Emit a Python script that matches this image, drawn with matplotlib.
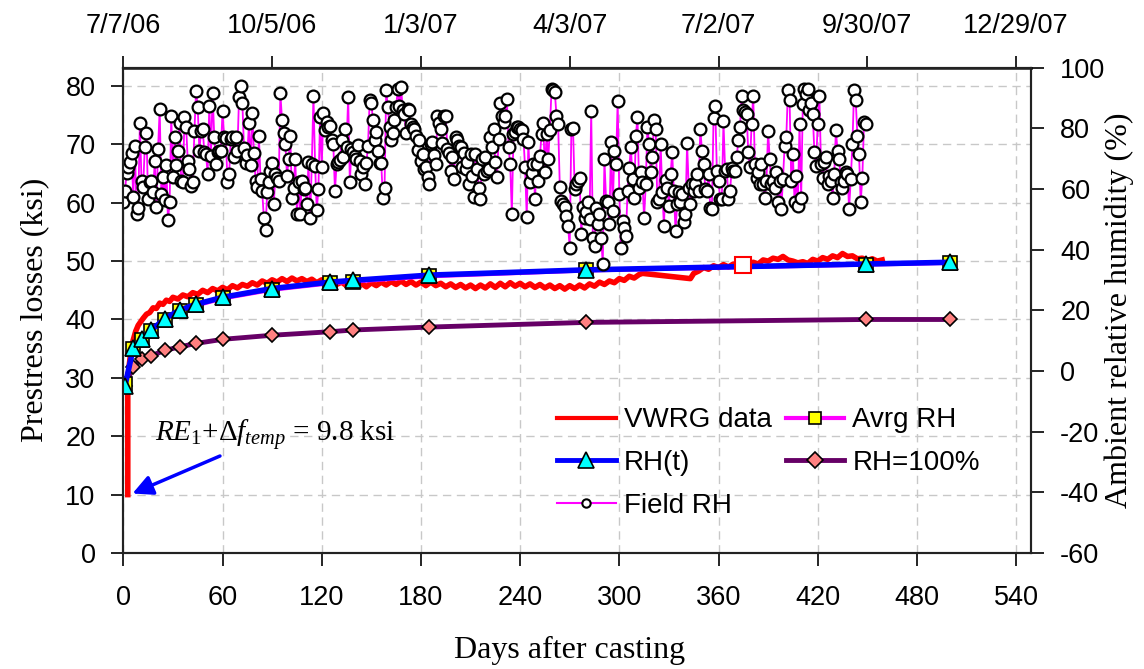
import numpy as np
import matplotlib
matplotlib.use('Agg')
import matplotlib.pyplot as plt
from matplotlib.lines import Line2D

# ---- data ----
# VWRG gauge readings (day, ksi)
vwrg_days = [2.7, 2.7, 3.5, 4.5, 5.5, 6.5, 7.5, 9, 10.5, 12,
             14, 16, 18, 20, 22, 24, 26, 28, 30, 33,
             36, 39, 42, 45, 48, 51, 54, 57, 60, 63,
             66, 69, 72, 75, 78, 81, 84, 87, 90, 93,
             96, 99, 102, 105, 108, 111, 114, 117, 120, 123,
             126, 129, 132, 135, 138, 141, 144, 147, 150, 153,
             156, 159, 162, 165, 168, 171, 174, 177, 180, 183,
             186, 189, 192, 195, 198, 201, 204, 207, 210, 213,
             216, 219, 222, 225, 228, 231, 234, 237, 240, 243,
             246, 249, 252, 255, 258, 261, 264, 267, 270, 273,
             276, 279, 282, 285, 288, 291, 294, 297, 300, 303,
             306, 309, 312, 314, 343, 345, 348, 351, 354, 357,
             360, 363, 366, 369, 372, 375, 378, 381, 384, 387,
             390, 393, 396, 399, 402, 405, 408, 411, 414, 417,
             420, 423, 426, 429, 432, 435, 438, 441, 444, 447,
             450, 453, 456, 459]
vwrg_ksi = [10.0, 29.0, 32.0, 34.5, 36.0, 37.0, 38.0, 39.0, 39.6, 40.2,
            40.9, 41.2, 42.0, 41.9, 42.8, 42.6, 43.3, 43.1, 43.8, 43.5,
            44.2, 43.9, 44.6, 44.3, 45.0, 44.6, 45.3, 44.9, 45.5, 45.1,
            45.8, 45.4, 46.0, 45.7, 46.3, 45.9, 46.6, 46.2, 46.8, 46.4,
            47.0, 46.5, 47.1, 46.6, 47.0, 46.5, 46.9, 46.3, 46.8, 46.2,
            46.6, 46.0, 46.4, 45.8, 46.3, 45.7, 46.2, 45.6, 46.3, 45.8,
            46.4, 45.9, 46.5, 46.0, 46.6, 46.0, 46.5, 45.9, 46.4, 45.8,
            46.4, 45.8, 46.2, 45.6, 46.1, 45.5, 46.0, 45.4, 45.9, 45.3,
            45.9, 45.4, 46.1, 45.5, 46.2, 45.6, 46.3, 45.7, 46.2, 45.6,
            46.1, 45.5, 46.0, 45.4, 45.9, 45.3, 45.8, 45.2, 45.8, 45.3,
            45.9, 45.4, 46.1, 45.7, 46.4, 46.0, 46.6, 46.3, 47.0, 46.7,
            47.4, 47.1, 47.7, 47.9, 47.0, 47.9, 48.3, 48.9, 48.6, 49.2,
            48.9, 49.4, 49.0, 49.5, 49.1, 49.4, 49.3, 49.8, 49.5, 50.2,
            50.0, 50.5, 50.3, 50.8, 50.2, 50.0, 49.7, 49.9, 49.6, 50.3,
            50.0, 50.6, 50.3, 50.9, 50.6, 51.3, 50.8, 50.9, 50.4, 50.5,
            50.1, 50.4, 50.0, 50.2]
open_mark_day = [375]
open_mark_ksi = [49.3]

# model predictions (ksi)
model_days = [1, 6, 11, 17, 25, 34, 44, 60, 90, 125, 139, 185, 280, 449, 500]
rh_t = [28.6, 35.1, 36.6, 38.2, 40.1, 41.6, 42.6, 43.8, 45.3, 46.4, 46.7, 47.6, 48.5, 49.5, 49.8]
avrg_rh = [28.9, 35.0, 36.5, 38.0, 39.9, 41.4, 42.4, 43.6, 45.1, 46.2, 46.5, 47.4, 48.4, 49.4, 49.7]
rh_100 = [28.6, 31.9, 33.2, 33.8, 34.7, 35.3, 35.9, 36.6, 37.3, 37.9, 38.2, 38.7, 39.5, 40.0, 40.0]

# daily field relative humidity (%), day 0 onwards
field_rh = [
    55.6, 59.4, 65.3, 67.1, 68.8, 71.8, 57.4, 74.3, 51.7, 53.6,
    81.7, 62.7, 60.8, 74.0, 78.4, 56.7, 62.2, 62.7, 58.9, 69.1,
    54.1, 73.2, 86.4, 58.3, 64.1, 56.3, 68.0, 49.7, 55.6, 84.2,
    64.1, 77.1, 68.0, 72.4, 81.7, 62.7, 62.2, 83.7, 80.4, 69.1,
    66.6, 61.1, 62.2, 79.0, 92.3, 87.0, 72.4, 79.0, 79.8, 72.1,
    71.6, 64.9, 87.5, 71.0, 91.6, 77.3, 68.2, 72.1, 72.4, 72.7,
    85.7, 77.3, 76.8, 62.2, 64.9, 76.5, 77.1, 70.7, 77.3, 72.7,
    90.3, 94.1, 88.3, 73.5, 68.5, 71.3, 81.7, 68.0, 85.0, 71.8,
    62.7, 60.8, 77.6, 63.3, 59.4, 50.4, 46.4, 58.9, 62.2, 66.0,
    68.5, 55.0, 64.9, 63.8, 62.7, 91.6, 82.6, 78.4, 74.9, 64.4,
    69.9, 77.6, 57.2, 60.5, 69.9, 51.7, 62.2,
    51.7, 62.7, 60.0, 60.5, 55.0, 68.8, 50.4, 68.2, 90.8, 67.7,
    53.0, 60.0, 83.7, 67.1, 85.0, 79.3, 82.0, 80.4, 80.9, 76.0,
    74.9, 59.4, 68.2, 68.8, 69.6, 76.0, 70.7, 79.8, 73.8, 90.3,
    62.2, 73.2, 72.1, 71.0, 69.9, 74.6, 69.1, 64.9, 67.1, 61.6,
    68.5, 74.3, 89.4, 88.3, 82.6, 76.0, 78.7, 72.7, 68.5, 68.5,
    57.0, 60.5, 92.5, 87.0, 80.6, 76.0, 78.4, 82.6, 87.0, 93.0,
    87.5, 93.6, 86.1, 84.8, 78.4, 86.4, 86.1, 81.5, 80.4, 79.8,
    77.6, 72.9, 76.0, 69.4, 71.6, 66.6, 67.1, 64.1, 61.6, 74.9,
    75.4, 71.3, 68.2, 84.2, 81.7, 79.8, 75.1, 84.2, 84.2, 73.2,
    71.8, 66.0, 70.7, 63.3, 77.1, 76.0, 74.3, 73.8, 67.1, 71.8,
    66.6, 68.8, 61.6, 71.6, 64.4, 57.4, 71.6, 66.6, 60.5, 56.7,
    69.9, 64.9,
    70.5, 66.0, 66.6, 77.1, 73.8, 79.8, 68.8, 64.1, 76.5, 88.3,
    84.2, 82.0, 84.2, 89.7, 74.0, 68.2, 51.7, 78.2, 78.7, 80.4,
    80.6, 79.8, 79.3, 76.5, 67.4, 50.8, 75.4, 62.2, 65.2, 68.2,
    56.7, 68.2, 62.7, 71.0, 78.2, 81.7, 65.5, 78.2, 69.9, 79.3,
    93.0, 92.5, 91.9, 84.2, 81.5, 60.8, 56.1, 55.0, 54.1, 51.2,
    47.9, 40.7, 79.8, 80.1, 60.0, 61.6, 62.5, 63.6, 45.1, 54.1,
    50.6, 52.3, 55.6, 50.1, 85.7, 44.0, 41.3, 53.9, 48.4, 51.7,
    44.0, 35.4, 69.9, 56.1, 55.6, 48.4, 75.4, 52.8, 72.7, 68.2,
    89.0, 58.3, 40.7, 49.5, 47.3, 44.6, 59.4, 66.9, 74.0, 63.3,
    57.2, 77.6, 83.7, 60.5, 65.5, 62.2, 50.4, 61.6, 80.4, 74.9,
    65.5, 70.5, 82.6, 79.8, 55.6, 56.7, 74.9, 58.9, 47.9, 63.0,
    60.5, 54.5, 64.9, 72.1, 59.4,
    46.2, 55.0, 58.9, 55.6, 58.3, 49.0, 51.7, 75.1, 60.5, 55.0,
    61.6, 59.4, 61.6, 64.9, 59.4, 79.8, 72.7, 68.2, 60.0, 59.4,
    64.9, 53.9, 53.4, 83.5, 87.5, 66.0, 62.7, 56.7, 56.7, 82.4,
    66.0, 66.6, 56.7, 59.4, 66.9, 66.0, 66.0, 70.5, 76.0, 80.4,
    90.8, 85.9, 85.3, 84.8, 72.1, 67.1, 81.5, 90.8, 68.2, 63.8,
    65.5, 61.6, 68.2, 61.6, 57.2, 62.7, 79.0, 69.9, 61.6, 62.7,
    60.5, 65.5, 55.6, 62.7, 53.4, 63.3, 74.3, 77.1, 92.5, 89.2,
    62.7, 71.6, 55.6, 64.4, 54.5, 81.5, 57.2, 88.1, 93.0, 91.4,
    93.0, 85.9, 88.3, 84.8, 72.1, 67.7, 81.5, 90.8, 68.2, 63.8,
    68.8, 70.5, 61.6, 64.4, 62.7, 57.2, 64.9, 79.3, 72.7, 69.9,
    62.2, 60.5, 62.7, 65.5, 64.9, 53.4, 63.3, 74.9, 92.5, 89.2,
    77.6, 71.6, 55.6, 63.8, 82.0, 81.5]
field_days = np.arange(len(field_rh))

top_ticks = [0, 90, 180, 270, 360, 450, 540]
top_labels = ['7/7/06', '10/5/06', '1/3/07', '4/3/07', '7/2/07', '9/30/07', '12/29/07']

plt.rcParams['font.family'] = 'Liberation Sans'
plt.rcParams['axes.unicode_minus'] = False
plt.rcParams['mathtext.fontset'] = 'custom'
plt.rcParams['mathtext.rm'] = 'Liberation Serif'
plt.rcParams['mathtext.it'] = 'Liberation Serif:italic'

fig = plt.figure(figsize=(11.44, 6.69), dpi=100)
ax1 = fig.add_axes([0.1078, 0.1734, 0.7934, 0.7254])
ax1.set_axisbelow(True)
ax1.grid(True, color='#c8c8c8', linestyle=(0, (6, 4)), lw=1)

ax1.plot(vwrg_days, vwrg_ksi, color='red', lw=4, zorder=2)
ax1.plot(model_days, rh_100, color='#660066', lw=3.5, marker='D', ms=7.5,
         mfc='#ff8080', mec='black', mew=1.2, zorder=3)
ax1.plot(model_days, avrg_rh, color='#ff00ff', lw=3, marker='s', ms=10,
         mfc='#ffff00', mec='black', mew=1.2, zorder=3)
ax1.plot(model_days, rh_t, color='#0000ff', lw=4, marker='^', ms=11,
         mfc='#00ffff', mec='black', mew=1.2, zorder=4)
ax1.plot(open_mark_day, open_mark_ksi, 's', ms=11, mfc='white', mec='red', mew=1.5, zorder=5)

ax1.set_xlim(0, 549)
ax1.set_ylim(0, 83.13)
ax1.set_xticks(range(0, 541, 60))
ax1.set_yticks(range(0, 81, 10))
ax1.tick_params(axis='both', direction='out', length=9, width=1.2, labelsize=19.5)
ax1.tick_params(axis='x', pad=14)
ax1.tick_params(axis='y', pad=11)

ax1.text(19, 19.1, r'$RE_1$+Δ$f_{temp}$ = 9.8 ksi', fontsize=21,
         family='Liberation Serif', va='baseline')
ax1.annotate('', xy=(4, 10), xytext=(60, 16.8),
             arrowprops=dict(arrowstyle='-|>', color='blue', lw=2.5, mutation_scale=30))

ax1.set_xlabel('Days after casting', fontsize=23, family='Liberation Serif')
ax1.xaxis.set_label_coords(0.492, -0.171)
ax1.set_ylabel('Prestress losses (ksi)', fontsize=23, family='Liberation Serif')
ax1.yaxis.set_label_coords(-0.082, 0.5)

ax2 = ax1.twinx()
ax2.plot(field_days, field_rh, color='#ff00ff', lw=1.3, marker='o', ms=8.5,
         mfc='white', mec='black', mew=1.6)
ax2.set_ylim(-60, 100)
ax2.set_yticks(range(-60, 101, 20))
ax2.tick_params(axis='y', direction='out', length=9, width=1.2, labelsize=19.5, pad=12)
ax2.set_ylabel('Ambient relative humidity (%)', fontsize=23, family='Liberation Serif')
ax2.yaxis.set_label_coords(1.0815, 0.5)

secax = ax1.secondary_xaxis('top')
secax.set_xticks(top_ticks)
secax.set_xticklabels(top_labels)
secax.tick_params(direction='out', length=9, width=1.2, labelsize=19.5, pad=12)

for a in (ax1, ax2):
    for s in a.spines.values():
        s.set_linewidth(1.5)
        s.set_color('#222222')
secax.spines['top'].set_linewidth(2)
secax.spines['top'].set_color('#404040')

handles = [
    Line2D([], [], color='red', lw=3),
    Line2D([], [], color='#0000ff', lw=3.5, marker='^', ms=11, mfc='#00ffff', mec='black', mew=1.2),
    Line2D([], [], color='#ff00ff', lw=1.5, marker='o', ms=6, mfc='white', mec='black', mew=1.5),
    Line2D([], [], color='#ff00ff', lw=3, marker='s', ms=9, mfc='#ffff00', mec='black', mew=1.2),
    Line2D([], [], color='#660066', lw=3.5, marker='D', ms=8, mfc='#ff8080', mec='black', mew=1.2),
]
labels = ['VWRG data', 'RH(t)', 'Field RH', 'Avrg RH', 'RH=100%']
ax2.legend(handles, labels, ncol=2, loc='upper left', bbox_to_anchor=(0.478, 0.3),
           frameon=False, prop=dict(family='Liberation Sans', size=20),
           handlelength=2.1, handletextpad=0.3, columnspacing=0.5, labelspacing=0.6,
           borderaxespad=0, borderpad=0)

fig.savefig('out.png', dpi=100)
